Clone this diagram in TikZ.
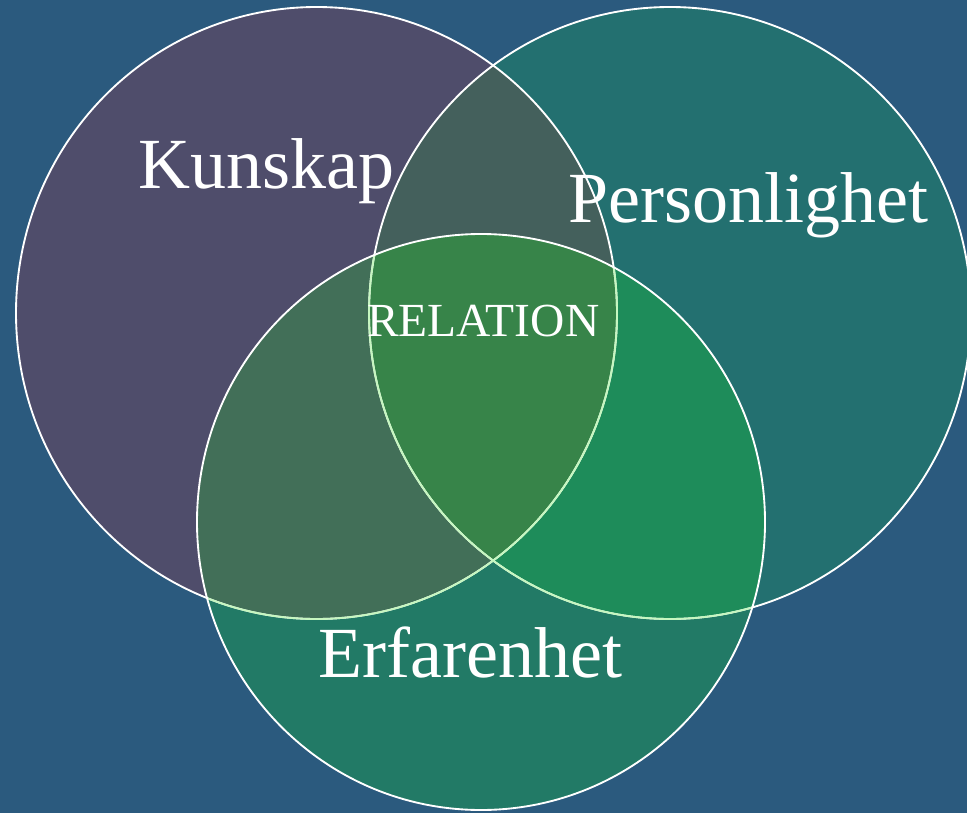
\documentclass[tikz,border=0pt]{standalone}
\usepackage{fontspec}
\setmainfont{Liberation Serif}
\definecolor{bg}{HTML}{2B5A7E}
\definecolor{cA}{HTML}{4F4D6B}
\definecolor{cB}{HTML}{237070}
\definecolor{cC}{HTML}{227A66}
\definecolor{cAB}{HTML}{44605C}
\definecolor{cAC}{HTML}{426F58}
\definecolor{cBC}{HTML}{1E8C5A}
\definecolor{cABC}{HTML}{378449}
\definecolor{tint}{HTML}{C6F7C0}
\begin{document}
\begin{tikzpicture}[x=0.75pt,y=-0.75pt,
  ring/.style={line width=1.4pt},
  bigtext/.style={text=white,anchor=base west,inner sep=0pt,font=\fontsize{54}{60}\selectfont},
  midtext/.style={text=white,anchor=base west,inner sep=0pt,font=\fontsize{35.6}{40}\selectfont}]
\fill[bg] (0,0) rectangle (967,813);
\useasboundingbox (0,0) rectangle (967,813);
\clip (0,0) rectangle (967,813);
\def\shA{(316.5,313) ellipse [x radius=300.5, y radius=306]}
\def\shB{(670,313) ellipse [x radius=301, y radius=306]}
\def\shC{(481,522) ellipse [x radius=284, y radius=288]}
% single regions
\fill[cA] \shA;
\fill[cB] \shB;
\fill[cC] \shC;
% pairwise intersections
\begin{scope}\clip \shA; \fill[cAB] \shB; \end{scope}
\begin{scope}\clip \shA; \fill[cAC] \shC; \end{scope}
\begin{scope}\clip \shB; \fill[cBC] \shC; \end{scope}
\begin{scope}\clip \shA; \clip \shB; \fill[cABC] \shC; \end{scope}
% outlines
\draw[ring,white] \shA;
\draw[ring,white] \shB;
\begin{scope}\clip \shC;
  \draw[ring,tint] \shA;
  \draw[ring,tint] \shB;
\end{scope}
\draw[ring,white] \shC;
% labels
\node[bigtext] (kunskap) at (138,189) {Kunskap};
\node[bigtext] (personlighet) at (568,223) {Personlighet};
\node[bigtext] (erfarenhet) at (318,677) {Erfarenhet};
\node[midtext] (relation) at (367,336) {RELATION};
\end{tikzpicture}
\end{document}
